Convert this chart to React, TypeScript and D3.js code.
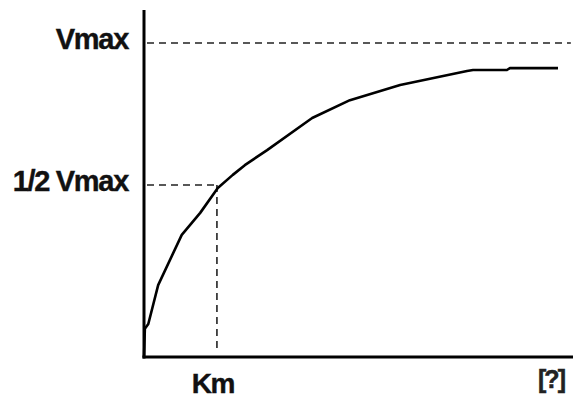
import { useEffect, useRef } from "react";
import * as d3 from "d3";

const width = 573;
const height = 403;
const margin = { top: 43, right: 0, bottom: 46, left: 144 };

// substrate concentration (arbitrary units) vs reaction rate (fraction of Vmax)
const substrate = [0, 0.02, 0.1, 0.33, 0.88, 1.31, 1.72, 2.07, 2.35, 2.87, 3.92, 4.8, 5.97, 7.53, 7.67, 8.46, 8.53, 9.65];
const rate = [0, 0.09, 0.105, 0.229, 0.389, 0.459, 0.538, 0.58, 0.611, 0.659, 0.761, 0.818, 0.866, 0.911, 0.914, 0.914, 0.92, 0.92];

const vmax = 1;
const halfVmax = 0.548;
const km = 1.7;

const yLabels = ["Vmax", "1/2 Vmax"];
const xLabels = ["Km", "[?]"];

const App = () => {
  const svgRef = useRef(null);

  useEffect(() => {
    const svg = d3.select(svgRef.current);
    svg.selectAll("*").remove();

    const x = d3.scaleLinear().domain([0, 10]).range([margin.left, width - margin.right]);
    const y = d3.scaleLinear().domain([0, vmax]).range([height - margin.bottom, margin.top]);

    const font = "'Liberation Sans', Arial, sans-serif";

    // dashed guides
    const dash = svg.append("g")
      .attr("stroke", "#222")
      .attr("stroke-width", 1.6)
      .attr("stroke-dasharray", "7,5");
    dash.append("line")
      .attr("x1", x(0.07)).attr("x2", x(9.95))
      .attr("y1", y(vmax)).attr("y2", y(vmax));
    dash.append("line")
      .attr("x1", x(0.07)).attr("x2", x(km))
      .attr("y1", y(halfVmax)).attr("y2", y(halfVmax));
    dash.append("line")
      .attr("x1", x(km)).attr("x2", x(km))
      .attr("y1", y(halfVmax)).attr("y2", y(0.015));

    // curve
    const pts = substrate.map((s, i) => [s, rate[i]] as [number, number]);
    const line = d3.line<[number, number]>()
      .x(d => x(d[0]))
      .y(d => y(d[1]));
    svg.append("path")
      .datum(pts)
      .attr("d", line)
      .attr("fill", "none")
      .attr("stroke", "#000")
      .attr("stroke-width", 2.6)
      .attr("stroke-linejoin", "round");

    // axes
    svg.append("line")
      .attr("x1", x(0)).attr("x2", x(0))
      .attr("y1", 10).attr("y2", y(0) + 1.5)
      .attr("stroke", "#000").attr("stroke-width", 3);
    svg.append("line")
      .attr("x1", x(0) - 1.5).attr("x2", width)
      .attr("y1", y(0)).attr("y2", y(0))
      .attr("stroke", "#000").attr("stroke-width", 3);

    // y labels
    svg.selectAll("text.ylab")
      .data(yLabels)
      .join("text")
      .attr("class", "ylab")
      .attr("x", 128)
      .attr("y", (d, i) => (i === 0 ? y(vmax) : y(halfVmax)) + 6)
      .attr("text-anchor", "end")
      .attr("font-family", font)
      .attr("font-weight", "bold")
      .attr("font-size", 29)
      .attr("letter-spacing", -1.3)
      .attr("fill", "#111")
      .attr("stroke", "#111")
      .attr("stroke-width", 0.4)
      .text(d => d);

    // x labels
    svg.append("text")
      .attr("x", x(km) - 4)
      .attr("y", 393)
      .attr("text-anchor", "middle")
      .attr("font-family", font)
      .attr("font-weight", "bold")
      .attr("font-size", 28)
      .attr("letter-spacing", -1.5)
      .attr("fill", "#111")
      .attr("stroke", "#111")
      .attr("stroke-width", 0.4)
      .text(xLabels[0]);
    svg.append("text")
      .attr("x", 551)
      .attr("y", 388)
      .attr("text-anchor", "middle")
      .attr("font-family", font)
      .attr("font-weight", "bold")
      .attr("font-size", 25)
      .attr("letter-spacing", -2)
      .attr("fill", "#222")
      .attr("stroke", "#222")
      .attr("stroke-width", 0.5)
      .text(xLabels[1]);
  }, []);

  return (
    <svg
      ref={svgRef}
      width={width}
      height={height}
      style={{ position: "absolute", left: 0, top: 0, background: "#fff" }}
    ></svg>
  );
};

export default App;
